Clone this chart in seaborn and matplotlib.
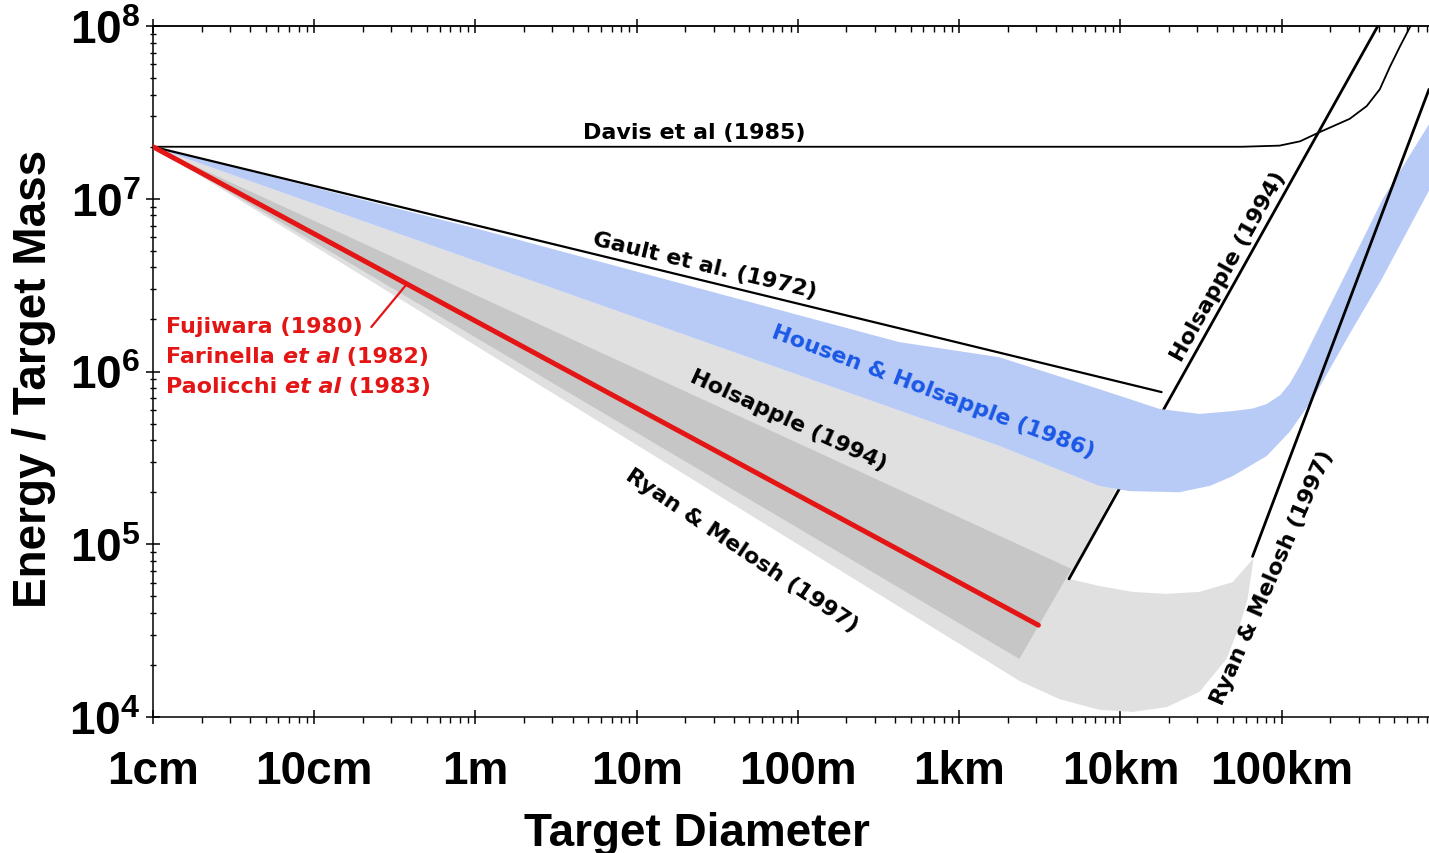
import numpy as np
import pandas as pd
import matplotlib
matplotlib.use("Agg")
import matplotlib.pyplot as plt
import seaborn as sns
from matplotlib.ticker import FixedLocator, FixedFormatter, LogLocator, NullFormatter

# ---------------- data ----------------
x_ticks = [0.01, 0.1, 1, 10, 100, 1e3, 1e4, 1e5]
x_tick_labels = ["1cm", "10cm", "1m", "10m", "100m", "1km", "10km", "100km"]
y_ticks = [1e4, 1e5, 1e6, 1e7, 1e8]
y_tick_labels = [r"$\mathbf{10^{4}}$", r"$\mathbf{10^{5}}$", r"$\mathbf{10^{6}}$",
                 r"$\mathbf{10^{7}}$", r"$\mathbf{10^{8}}$"]

davis_d = [0.01, 5.7e4, 9.7e4, 1.3e5, 1.72e5, 2.64e5, 3.37e5, 4.06e5, 4.69e5, 5.41e5, 6.3e5]
davis_e = [2e7, 2e7, 2.03e7, 2.15e7, 2.43e7, 2.9e7, 3.44e7, 4.3e7, 5.8e7, 7.6e7, 1e8]

gault_d = [0.01, 1.8e4]
gault_e = [2e7, 7.6e5]

red_d = [0.01, 3.1e3]
red_e = [2e7, 3.4e4]

hols_line_d = [4.8e3, 3.95e5]
hols_line_e = [6.3e4, 1e8]

ryan_line_d = [6.6e4, 8.2e5]
ryan_line_e = [8.5e4, 4.3e7]

housen_upper_d = [0.01, 1.04, 424, 1.77e3, 7.4e3, 1.75e4, 3.1e4, 4.97e4, 6.6e4, 8.07e4,
                  9.8e4, 1.12e5, 1.3e5, 1.65e5, 2.64e5, 4.24e5, 8.3e5]
housen_upper_e = [2e7, 6.68e6, 1.48e6, 1.21e6, 7.9e5, 6.07e5, 5.68e5, 5.9e5, 6.1e5, 6.48e5,
                  7.3e5, 8.5e5, 1.08e6, 1.69e6, 4.08e6, 9.97e6, 2.75e7]
housen_lower_d = [0.01, 1.04, 1.77e3, 7.41e3, 1.14e4, 2.32e4, 3.6e4, 4.97e4, 8.07e4, 1.12e5,
                  1.56e5, 2.64e5, 4.18e5, 8.3e5]
housen_lower_e = [2e7, 4.31e6, 3.71e5, 2.17e5, 2.03e5, 2.0e5, 2.18e5, 2.48e5, 3.24e5, 4.47e5,
                  6.93e5, 1.65e6, 3.43e6, 1.14e7]

ryan_top_d = [0.01, 1.04, 1.77e3, 7.41e3, 9.44e3, 4.8e3, 7.41e3, 1.19e4, 1.93e4,
              3.1e4, 4.97e4, 6.7e4]
ryan_top_e = [2e7, 4.31e6, 3.71e5, 2.17e5, 2.09e5, 6.3e4, 5.73e4, 5.3e4, 5.16e4,
              5.3e4, 6.04e4, 8.3e4]
ryan_bottom_d = [0.01, 2.36e3, 4.18e3, 7.41e3, 1.19e4, 1.93e4, 3.1e4, 4.55e4, 5.48e4,
                 6.15e4, 6.7e4]
ryan_bottom_e = [2e7, 1.62e4, 1.27e4, 1.1e4, 1.07e4, 1.14e4, 1.4e4, 2.17e4, 3.37e4,
                 4.82e4, 8.3e4]

hols_band_d = [0.01, 4.97e3, 2.36e3]
hols_band_e = [2e7, 7.2e4, 2.17e4]

leader_d = [0.226, 0.367]
leader_e = [1.81e6, 3.13e6]

# ---------------- style ----------------
sns.set_theme(style="ticks")
plt.rcParams["font.family"] = ["Liberation Sans", "DejaVu Sans"]
plt.rcParams["mathtext.fontset"] = "custom"
plt.rcParams["mathtext.bf"] = "Liberation Sans:bold"
plt.rcParams["mathtext.rm"] = "Liberation Sans"
plt.rcParams["mathtext.it"] = "Liberation Sans:italic"

LIGHT = "#e0e0e0"
DARK = "#c6c6c6"
BLUE = "#b8caf6"
RED = "#e41515"
BLUE_TXT = "#1a58e6"

fig = plt.figure(figsize=(14.29, 8.54), dpi=100)
ax = fig.add_axes([153 / 1429, (854 - 718) / 854, (1429 - 153) / 1429, (718 - 27) / 854])
ax.set_xscale("log")
ax.set_yscale("log")
ax.set_xlim(0.01, 8.2e5)
ax.set_ylim(1e4, 1e8)

# bands
ax.fill(ryan_top_d + ryan_bottom_d[::-1][1:-1], ryan_top_e + ryan_bottom_e[::-1][1:-1],
        color=LIGHT, lw=0, zorder=1)
ax.fill(hols_band_d, hols_band_e, color=DARK, lw=0, zorder=2)
sns.lineplot(x=hols_line_d, y=hols_line_e, ax=ax, color="black", lw=2.0,
             estimator=None, sort=False, zorder=3)
ax.fill(housen_upper_d + housen_lower_d[::-1][:-1], housen_upper_e + housen_lower_e[::-1][:-1],
        color=BLUE, lw=0, zorder=4)

# lines
sns.lineplot(x=red_d, y=red_e, ax=ax, color=RED, lw=3.6, estimator=None, sort=False, zorder=6)
sns.lineplot(x=leader_d, y=leader_e, ax=ax, color=RED, lw=1.6, estimator=None, sort=False, zorder=6)
sns.lineplot(x=gault_d, y=gault_e, ax=ax, color="black", lw=1.6, estimator=None, sort=False, zorder=5)
sns.lineplot(x=davis_d, y=davis_e, ax=ax, color="black", lw=1.3, estimator=None, sort=False, zorder=5)
sns.lineplot(x=ryan_line_d, y=ryan_line_e, ax=ax, color="black", lw=2.0, estimator=None, sort=False, zorder=5)

# ---------------- annotations ----------------
lab = dict(family="DejaVu Sans", fontweight="bold", fontsize=16, ha="center", va="center",
           rotation_mode="anchor", zorder=8)
ax.text(22.6, 2.43e7, "Davis et al (1985)", color="black", **lab)
ax.text(26.4, 4.13e6, "Gault et al. (1972)", color="black", rotation=-13.4, **lab)
ax.text(690, 7.7e5, "Housen & Holsapple (1986)", color=BLUE_TXT, rotation=-20.6, **lab)
ax.text(86.7, 5.24e5, "Holsapple (1994)", color="black", rotation=-24.7, **lab)
ax.text(44.9, 9.27e4, "Ryan & Melosh (1997)", color="black", rotation=-34, **lab)
ax.text(4.69e4, 4.08e6, "Holsapple (1994)", color="black", rotation=60.8, **lab)
ax.text(8.79e4, 6.46e4, "Ryan & Melosh (1997)", color="black", rotation=66.3, **lab)

red_kw = dict(family="DejaVu Sans", fontweight="bold", fontsize=16, color=RED, zorder=8)
ax.text(0.01205, 1.83e6, "Fujiwara (1980)", ha="left", va="center", **red_kw)
for name, year, yv in [("Farinella ", " (1982)", 1.23e6), ("Paolicchi ", " (1983)", 8.24e5)]:
    t1 = ax.text(0.01205, yv, name, ha="left", va="center", **red_kw)
    t2 = ax.annotate("et al", xy=(1, 0), xycoords=t1, ha="left", va="bottom",
                     style="italic", **red_kw)
    ax.annotate(year, xy=(1, 0), xycoords=t2, ha="left", va="bottom", **red_kw)

# ---------------- axes styling ----------------
for s in ["left", "bottom", "top"]:
    ax.spines[s].set_linewidth(1.1)
    ax.spines[s].set_color("black")
ax.spines["right"].set_visible(False)

ax.xaxis.set_major_locator(FixedLocator(x_ticks))
ax.xaxis.set_major_formatter(FixedFormatter(x_tick_labels))
ax.xaxis.set_minor_locator(LogLocator(base=10, subs=np.arange(2, 10), numticks=20))
ax.xaxis.set_minor_formatter(NullFormatter())
ax.yaxis.set_major_locator(FixedLocator(y_ticks))
ax.yaxis.set_major_formatter(FixedFormatter(y_tick_labels))
ax.yaxis.set_minor_locator(LogLocator(base=10, subs=np.arange(2, 10), numticks=20))
ax.yaxis.set_minor_formatter(NullFormatter())

ax.tick_params(axis="x", which="major", direction="inout", length=10, width=1.1,
               pad=18, labelsize=33, bottom=True, top=False, colors="black")
ax.tick_params(axis="x", which="minor", direction="out", length=4, width=1.0,
               bottom=True, top=False, colors="black")
ax.tick_params(axis="y", which="major", direction="inout", length=10, width=1.1,
               pad=4, labelsize=33, left=True, right=False, colors="black")
ax.tick_params(axis="y", which="minor", direction="inout", length=5, width=1.0,
               left=True, right=False, colors="black")
for lbl in ax.get_xticklabels() + ax.get_yticklabels():
    lbl.set_fontweight("bold")
    lbl.set_family("Liberation Sans")

sec = ax.secondary_xaxis("top")
sec.xaxis.set_major_locator(FixedLocator(x_ticks))
sec.xaxis.set_major_formatter(NullFormatter())
sec.xaxis.set_minor_locator(LogLocator(base=10, subs=np.arange(2, 10), numticks=20))
sec.xaxis.set_minor_formatter(NullFormatter())
sec.tick_params(which="major", direction="inout", length=10, width=1.1, colors="black")
sec.tick_params(which="minor", direction="in", length=4, width=1.0, colors="black")
sec.spines["top"].set_linewidth(1.1)

ax.set_xlabel("Target Diameter", fontsize=33, fontweight="bold", family="Liberation Sans",
              color="black")
ax.set_ylabel("Energy / Target Mass", fontsize=33, fontweight="bold", family="Liberation Sans",
              color="black")
ax.xaxis.set_label_coords(0.426, -0.136)
ax.yaxis.set_label_coords(-0.076, 0.49)

fig.savefig("out.png", dpi=100)
